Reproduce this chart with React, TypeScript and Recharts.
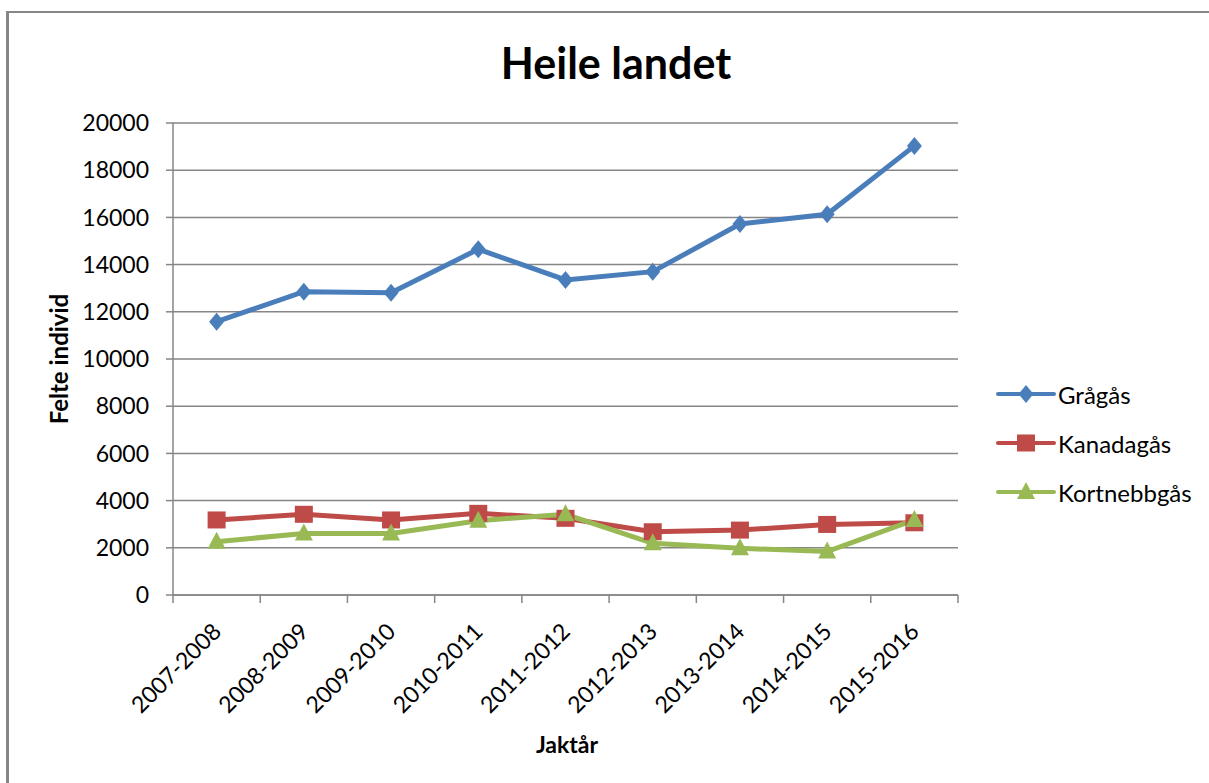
import React from 'react';
import { LineChart, Line, XAxis, YAxis, CartesianGrid } from 'recharts';

const categories = ['2007-2008', '2008-2009', '2009-2010', '2010-2011', '2011-2012', '2012-2013', '2013-2014', '2014-2015', '2015-2016'];
const gragas = [11580, 12850, 12810, 14650, 13350, 13700, 15720, 16130, 19030];
const kanadagas = [3180, 3420, 3180, 3460, 3250, 2680, 2750, 2990, 3060];
const kortnebbgas = [2260, 2610, 2610, 3150, 3420, 2190, 1980, 1840, 3180];
const yTicks = [0, 2000, 4000, 6000, 8000, 10000, 12000, 14000, 16000, 18000, 20000];

const data = categories.map((name, i) => ({
    name,
    pos: i + 0.5,
    gragas: gragas[i],
    kanadagas: kanadagas[i],
    kortnebbgas: kortnebbgas[i],
}));

// boundary ticks at integers, labels at half steps (category centres)
const xTicks = Array.from({ length: 19 }, (_, i) => i / 2);

const FONT = 'Lato, "Open Sans", sans-serif';
const GRID = '#868686';
const BLUE = '#4a7ebb';
const RED = '#be4b48';
const GREEN = '#98b954';

function XTick(props: any) {
    const { x, y, payload } = props;
    const v = payload.value as number;
    if (Number.isInteger(v)) {
        return <line x1={x} x2={x} y1={y} y2={y + 8} stroke={GRID} strokeWidth={1.5} />;
    }
    const tx = x + 6;
    const ty = y + 38;
    return (
        <text x={tx} y={ty} textAnchor="end" fontSize={23} fontFamily={FONT} fill="#000" transform={`rotate(-45, ${tx}, ${ty})`}>
            {categories[Math.floor(v)]}
        </text>
    );
}

function Diamond({ cx, cy, fill }: any) {
    return <polygon points={`${cx},${cy - 9} ${cx + 7.5},${cy} ${cx},${cy + 9} ${cx - 7.5},${cy}`} fill={fill} />;
}
function Square({ cx, cy, fill }: any) {
    return <rect x={cx - 9} y={cy - 8.5} width={18} height={17} fill={fill} />;
}
function Triangle({ cx, cy, fill }: any) {
    return <polygon points={`${cx},${cy - 10} ${cx + 9},${cy + 7} ${cx - 9},${cy + 7}`} fill={fill} />;
}

const series = [
    { key: 'gragas', name: 'Grågås', color: BLUE, Marker: Diamond },
    { key: 'kanadagas', name: 'Kanadagås', color: RED, Marker: Square },
    { key: 'kortnebbgas', name: 'Kortnebbgås', color: GREEN, Marker: Triangle },
];

export default function App() {
    return (
        <div style={{ position: 'fixed', left: 0, top: 0, width: 1209, height: 783, overflow: 'hidden', background: '#fff', fontFamily: FONT }}>
            <div style={{ position: 'absolute', left: 6, top: 11, width: 1230, height: 800, borderTop: `2px solid ${GRID}`, borderLeft: `3px solid ${GRID}` }} />
            <div style={{ position: 'absolute', left: 0, width: 1232, top: 36, textAlign: 'center', fontSize: 43, fontWeight: 700, lineHeight: '54px' }}>
                Heile landet
            </div>
            <div style={{ position: 'absolute', left: 58, top: 359, transform: 'translate(-50%, -50%) rotate(-90deg)', whiteSpace: 'nowrap', fontSize: 24, fontWeight: 700 }}>
                Felte individ
            </div>
            <div style={{ position: 'absolute', left: 567, top: 744, transform: 'translate(-50%, -50%)', whiteSpace: 'nowrap', fontSize: 23, fontWeight: 700 }}>
                Jaktår
            </div>
            <div style={{ position: 'absolute', left: 0, top: 0 }}>
                <LineChart width={1209} height={783} data={data} margin={{ top: 123, right: 251, bottom: 88, left: 113 }}>
                    <CartesianGrid horizontal vertical={false} stroke={GRID} strokeWidth={1.5} />
                    <XAxis
                        dataKey="pos"
                        type="number"
                        domain={[0, 9]}
                        ticks={xTicks}
                        interval={0}
                        height={100}
                        tickSize={0}
                        tickMargin={0}
                        tickLine={false}
                        tick={<XTick />}
                        axisLine={{ stroke: GRID, strokeWidth: 1.5 }}
                    />
                    <YAxis
                        domain={[0, 20000]}
                        ticks={yTicks}
                        interval={0}
                        width={60}
                        tickSize={7}
                        tickMargin={17}
                        tickLine={{ stroke: GRID, strokeWidth: 1.5 }}
                        axisLine={{ stroke: GRID, strokeWidth: 1.5 }}
                        tick={{ fill: '#000', fontSize: 23, fontFamily: FONT }}
                    />
                    {series.map(({ key, color, Marker }) => (
                        <Line
                            key={key}
                            dataKey={key}
                            type="linear"
                            stroke={color}
                            strokeWidth={5}
                            isAnimationActive={false}
                            activeDot={false}
                            dot={(p: any) => <Marker key={`${key}-${p.index}`} cx={p.cx} cy={p.cy} fill={color} />}
                        />
                    ))}
                </LineChart>
            </div>
            <div style={{ position: 'absolute', left: 996, top: 378 }}>
                {series.map(({ key, name, color, Marker }) => (
                    <div key={key} style={{ display: 'flex', alignItems: 'center', height: 32, marginBottom: 17 }}>
                        <svg width={60} height={24}>
                            <line x1={2} x2={58} y1={12} y2={12} stroke={color} strokeWidth={4} strokeLinecap="round" />
                            <Marker cx={30} cy={12} fill={color} />
                        </svg>
                        <span style={{ fontSize: 24, marginLeft: 2 }}>{name}</span>
                    </div>
                ))}
            </div>
        </div>
    );
}
